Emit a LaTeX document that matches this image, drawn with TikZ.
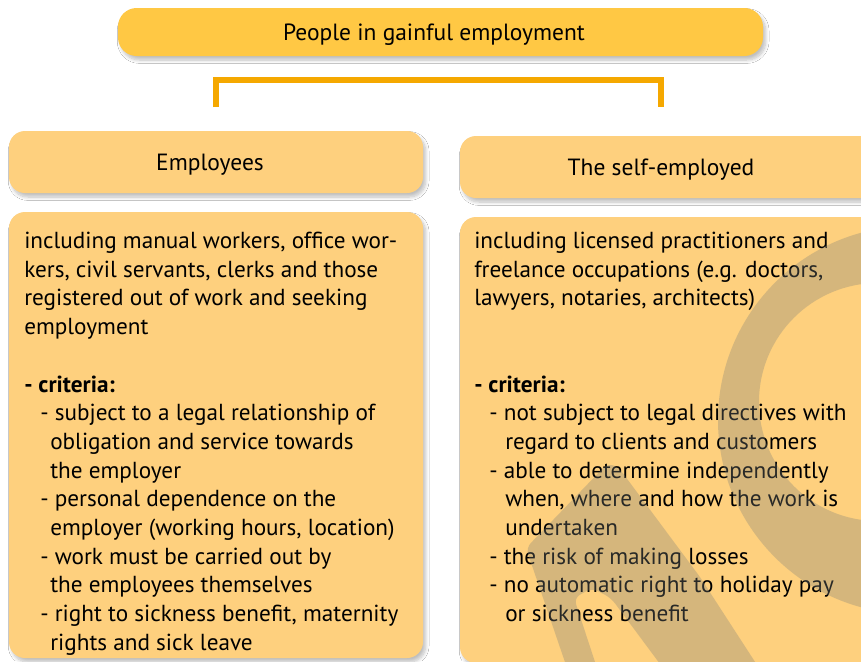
\documentclass[tikz,border=0pt]{standalone}
\usepackage{fontspec}
\setmainfont{PT Sans}
\usetikzlibrary{fit,shadows.blur}
\definecolor{topc}{RGB}{255,200,68}
\definecolor{boxc}{RGB}{254,208,126}
\definecolor{brk}{RGB}{245,168,0}
\definecolor{wm}{RGB}{128,130,122}
\begin{document}
\begin{tikzpicture}[x=0.75pt,y=-0.75pt,
  shd/.style={blur shadow={shadow blur steps=8, shadow xshift=2pt, shadow yshift=-3pt, shadow opacity=25, shadow blur radius=2.5pt}},
  hbox/.style={fill=boxc, rounded corners=12pt, inner sep=0pt, shd},
  tbox/.style={fill=topc, rounded corners=14pt, inner sep=0pt, shd},
  htext/.style={anchor=base, inner sep=0pt, font=\fontsize{17.6}{20}\selectfont},
  ln/.style={anchor=base west, inner sep=0pt, font=\fontsize{17.4}{20}\selectfont},
  wmark/.style={fill=wm, fill opacity=0.32}
]
\useasboundingbox (0,0) rectangle (861,661);
\fill[white] (0,0) rectangle (861,661);

% boxes
\node[tbox, fit={(118,8) (763,56)}] (top) {};
\node[hbox, fit={(9,131) (423,193)}] (emp) {};
\node[hbox, fit={(460,136) (900,198)}] (self) {};
\node[hbox, fit={(9,212) (423,658)}] (empc) {};
\node[hbox, fit={(460,217) (900,663)}] (selfc) {};

% bracket
\coordinate (bl) at (216,107);
\coordinate (blt) at (216,80);
\coordinate (brt) at (661,80);
\coordinate (br) at (661,107);
\draw[brk, line width=3.8pt] (bl) -- (blt) -- (brt) -- (br);

% header texts
\node[htext] (toptxt) at (434,40) {People in gainful employment};
\node[htext] (emptxt) at (210,170) {Employees};
\node[htext] (selftxt) at (661,175) {The self-employed};

% left text
\node[ln] (l1) at (24,248.5) {including manual workers, office wor-};
\node[ln] (l2) at (24,277.2) {kers, civil servants, clerks and those};
\node[ln] (l3) at (24,305.9) {registered out of work and seeking};
\node[ln] (l4) at (24,334.6) {employment};
\node[ln] (l5) at (24,392) {\textbf{- criteria:}};
\node[ln] (l6) at (40,420.7) {- subject to a legal relationship of};
\node[ln] (l7) at (50,449.4) {obligation and service towards};
\node[ln] (l8) at (50,478.1) {the employer};
\node[ln] (l9) at (40,506.8) {- personal dependence on the};
\node[ln] (l10) at (50,535.5) {employer (working hours, location)};
\node[ln] (l11) at (40,564.2) {- work must be carried out by};
\node[ln] (l12) at (50,592.9) {the employees themselves};
\node[ln] (l13) at (40,621.6) {- right to sickness benefit, maternity};
\node[ln] (l14) at (50,650.3) {rights and sick leave};

% right text
\node[ln] (r1) at (474,248.5) {including licensed practitioners and};
\node[ln] (r2) at (474,277.2) {freelance occupations (e.g. doctors,};
\node[ln] (r3) at (474,305.9) {lawyers, notaries, architects)};
\node[ln] (r4) at (474,392) {\textbf{- criteria:}};
\node[ln] (r5) at (489,420.7) {- not subject to legal directives with};
\node[ln] (r6) at (505,449.4) {regard to clients and customers};
\node[ln] (r7) at (489,478.1) {- able to determine independently};
\node[ln] (r8) at (505,506.8) {when, where and how the work is};
\node[ln] (r9) at (505,535.5) {undertaken};
\node[ln] (r10) at (489,564.2) {- the risk of making losses};
\node[ln] (r11) at (489,592.9) {- no automatic right to holiday pay};
\node[ln] (r12) at (505,621.6) {or sickness benefit};

% watermark
\begin{scope}
\clip[rounded corners=12pt] (460,217) rectangle (900,663);
\fill[wmark, even odd rule] (912,420) circle (194) (878,402) circle (119);
\fill[wmark, rounded corners=5pt] (567,668) -- (526,548) -- (608,463) -- (619,468) -- (700,577) -- (759,668) -- (663,668) -- (611,598) -- (592,588) -- (574,598) -- (597,668) -- cycle;
\end{scope}
\end{tikzpicture}
\end{document}
